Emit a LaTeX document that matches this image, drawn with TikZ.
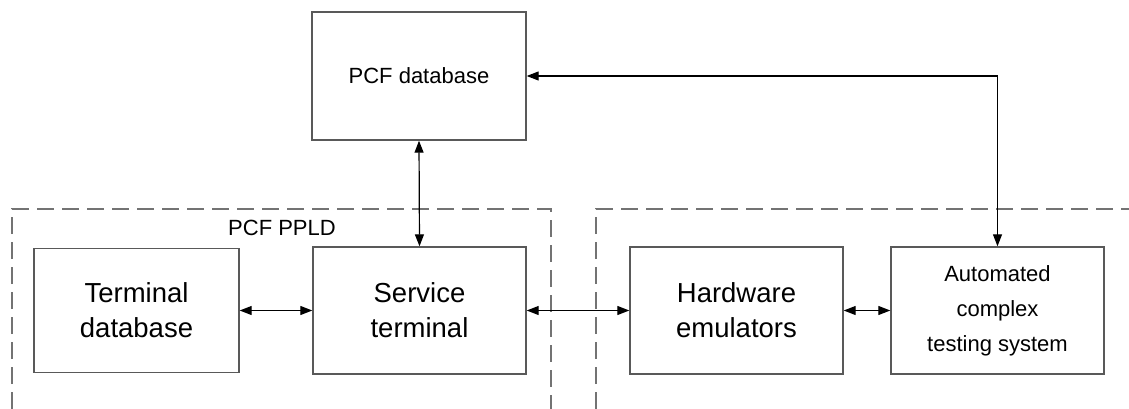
\documentclass[tikz,border=0pt]{standalone}
\usepackage{fontspec}
\setmainfont{Liberation Sans}
\usetikzlibrary{arrows.meta}
\begin{document}
\begin{tikzpicture}[x=1pt,y=-1pt,
  blk/.style={draw=black!65,line width=1.4pt,fill=white,rectangle,inner sep=0pt,align=center},
  small/.style={font=\fontsize{22}{35}\selectfont},
  big/.style={font=\fontsize{27.5}{35}\selectfont},
  arr/.style={draw=black,line width=1.2pt,{Triangle[length=12pt,width=9pt]}-{Triangle[length=12pt,width=9pt]}},
  zone/.style={draw=black!55,line width=1.4pt,dash pattern=on 17pt off 8pt}]
\useasboundingbox (0,0) rectangle (1129,409);
% subsystem boundaries (open towards the page edges)
\coordinate (l1) at (12,409);
\coordinate (l2) at (12,209);
\coordinate (l3) at (551,209);
\coordinate (l4) at (551,409);
\coordinate (r1) at (596,409);
\coordinate (r2) at (596,209);
\coordinate (r3) at (1129,209);
\draw[zone] (l1) -- (l2) -- (l3) -- (l4);
\draw[zone] (r1) -- (r2) -- (r3);
\node[small] (lbl) at (282,228) {PCF PPLD};
% blocks
\node[blk,small,minimum width=214pt,minimum height=128pt] (pcf) at (419,76) {PCF database};
\node[blk,big,minimum width=205pt,minimum height=124pt] (tdb) at (136.5,310.5) {Terminal\\database};
\node[blk,big,minimum width=213pt,minimum height=127pt] (st) at (419.5,310.5) {Service\\terminal};
\node[blk,big,minimum width=213pt,minimum height=127pt] (hw) at (736.5,310.5) {Hardware\\emulators};
\node[blk,small,minimum width=213pt,minimum height=127pt] (acts) at (997.5,310.5) {Automated\\complex\\testing system};
% links
\draw[arr] (pcf.south) -- (st.north);
\draw[arr] (pcf.east) -| (acts.north);
\draw[arr] (tdb.east) -- (st.west);
\draw[arr] (st.east) -- (hw.west);
\draw[arr] (hw.east) -- (acts.west);
\end{tikzpicture}
\end{document}
